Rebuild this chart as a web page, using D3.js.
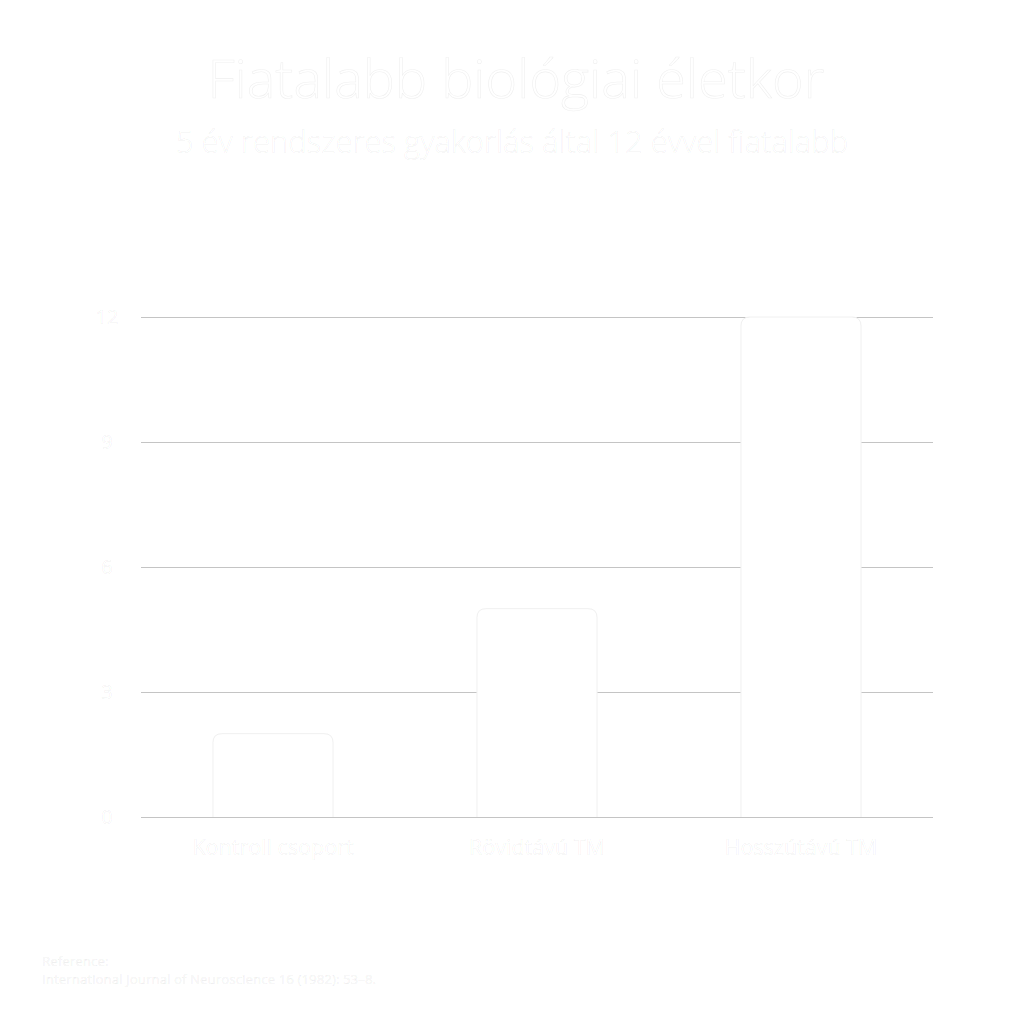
<!DOCTYPE html>
<html>
<head>
<meta charset="utf-8">
<script src="https://cdn.jsdelivr.net/npm/d3@7"></script>
<style>
  body { margin: 0; background: #fff; }
  text { font-family: "Open Sans", sans-serif; fill: #fff; stroke: rgba(0,0,0,0.07); stroke-width: 0.6px; }
</style>
</head>
<body>
<div id="chart"></div>
<script>
// chart values
const categories = ["Kontroll csoport", "Rövidtávú TM", "Hosszútávú TM"]
const values = [2, 5, 12]
const yTicks = [0, 3, 6, 9, 12]
const title = "Fiatalabb biológiai életkor"
const subtitle = "5 év rendszeres gyakorlás által 12 évvel fiatalabb"
const sourceLines = ["Reference:", "International Journal of Neuroscience 16 (1982): 53–8."]

let margin = { top: 317, right: 91, bottom: 207, left: 141 }
let width = 1024 - margin.left - margin.right
let height = 1024 - margin.top - margin.bottom

const root = d3.select("#chart")
    .append("svg")
    .attr("width", 1024)
    .attr("height", 1024)

root.append("text")
    .attr("x", 516)
    .attr("y", 98)
    .attr("text-anchor", "middle")
    .style("font-size", "54px")
    .style("font-weight", 300)
    .text(title)

root.append("text")
    .attr("x", 512)
    .attr("y", 153)
    .attr("text-anchor", "middle")
    .style("font-size", "31px")
    .style("font-weight", 300)
    .text(subtitle)

root.selectAll(".src")
    .data(sourceLines)
    .enter()
    .append("text")
    .attr("x", 42)
    .attr("y", (d, i) => 966 + i * 18)
    .style("font-size", "13.4px")
    .text(d => d)

let svg = root.append("g")
    .attr("transform", "translate(" + margin.left + "," + margin.top + ")")

// scales
let x = d3.scaleBand()
    .domain(categories)
    .range([0, width])
    .paddingInner(0.545)
    .paddingOuter(0.2725)

let y = d3.scaleLinear()
    .domain([0, 12])
    .range([height, 0])

// grid lines
svg.append("g")
    .call(d3.axisLeft(y).tickValues(yTicks).tickSize(-width).tickFormat(""))
    .call(g => g.select(".domain").remove())
    .call(g => g.selectAll("line").attr("stroke", "#c4c4c4").attr("stroke-width", 1))

// y labels
svg.append("g")
    .call(d3.axisLeft(y).tickValues(yTicks).tickSize(0).tickPadding(34))
    .call(g => g.select(".domain").remove())
    .call(g => g.selectAll("text").style("font-size", "20px").attr("text-anchor", "middle"))

// bars with rounded top
const r = 9
svg.selectAll(".bar")
    .data(values)
    .enter()
    .append("path")
    .attr("fill", "#fff")
    .attr("stroke", "#f0f0f0")
    .attr("stroke-width", 1)
    .attr("d", (d, i) => {
        const x0 = x(categories[i]), x1 = x0 + x.bandwidth()
        const top = y(d), bottom = y(0)
        return "M" + x0 + "," + bottom +
            "V" + (top + r) +
            "Q" + x0 + "," + top + " " + (x0 + r) + "," + top +
            "H" + (x1 - r) +
            "Q" + x1 + "," + top + " " + x1 + "," + (top + r) +
            "V" + bottom
    })

// x labels
svg.append("g")
    .attr("transform", "translate(0," + height + ")")
    .call(d3.axisBottom(x).tickSize(0).tickPadding(23))
    .call(g => g.select(".domain").remove())
    .call(g => g.selectAll("text").style("font-size", "21.5px"))
</script>
</body>
</html>
